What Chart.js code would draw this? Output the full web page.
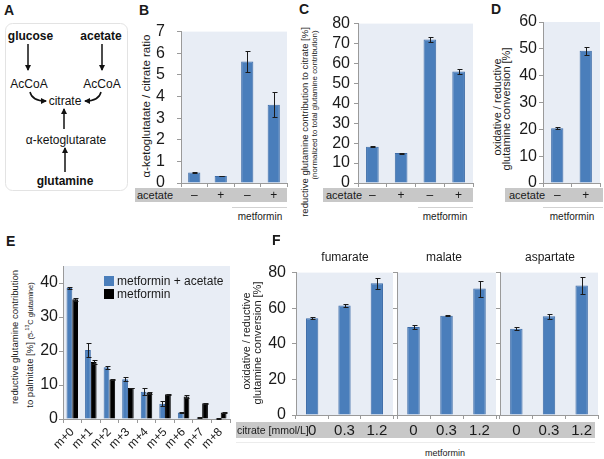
<!DOCTYPE html>
<html>
<head>
<meta charset="utf-8">
<script src="https://cdn.jsdelivr.net/npm/chart.js@4"></script>
<style>
body { margin: 0; background: #fff; font-family: "Liberation Sans", Arial, sans-serif; color: #1a1a1a; }
#fig { position: relative; width: 604px; height: 459px; overflow: hidden; }
canvas { position: absolute; }
.abs { position: absolute; white-space: nowrap; }
.band { position: absolute; background: #c8c8c8; }
.line { position: absolute; height: 1px; background: #d2d2d2; }
.letter { position: absolute; font-weight: bold; font-size: 14px; }
.rot { position: absolute; white-space: nowrap; transform: translate(-50%, -50%) rotate(-90deg); }
.mid { transform: translate(-50%, -50%); }
.vmid { transform: translateY(-50%); }
</style>
</head>
<body>
<div id="fig">

  <!-- A: pathway sketch -->
  <svg class="abs" style="left:0;top:0" width="135" height="200">
    <defs>
      <marker id="ah" markerWidth="6" markerHeight="6" refX="5" refY="3" orient="auto" markerUnits="userSpaceOnUse">
        <path d="M0,0 L6,3 L0,6 z" fill="#111"/>
      </marker>
    </defs>
    <rect x="5.5" y="23.5" width="122" height="167" rx="7" fill="none" stroke="#e3e3e3"/>
    <g font-family="Liberation Sans, Arial, sans-serif" font-size="12" fill="#111" text-anchor="middle">
      <text x="30.5" y="40" font-weight="bold">glucose</text>
      <text x="101" y="40" font-weight="bold">acetate</text>
      <text x="29" y="88">AcCoA</text>
      <text x="102" y="88">AcCoA</text>
      <text x="65" y="105">citrate</text>
      <text x="66" y="144">α-ketoglutarate</text>
      <text x="65" y="185" font-weight="bold">glutamine</text>
    </g>
    <g stroke="#111" stroke-width="1.5" fill="none" marker-end="url(#ah)">
      <line x1="28" y1="44" x2="28" y2="70"/>
      <line x1="102" y1="44" x2="102" y2="70"/>
      <path d="M30,92 Q32,101 46,101"/>
      <path d="M101,92 Q99,101 85,101"/>
      <line x1="64" y1="129" x2="64" y2="109"/>
      <line x1="65" y1="172" x2="65" y2="148"/>
    </g>
  </svg>
  <div class="letter" style="left:4px;top:2px">A</div>

  <!-- B -->
  <div class="letter" style="left:139px;top:2px">B</div>
  <div class="rot" style="left:146px;top:106px;font-size:11.5px">α-ketoglutatate / citrate ratio</div>
  <div class="band" style="left:135px;top:188px;width:152px;height:14px"></div>
  <div class="abs vmid" style="left:137px;top:195px;font-size:11px">acetate</div>
  <div class="line" style="left:232px;top:207px;width:55px"></div>
  <div class="abs mid" style="left:260px;top:216px;font-size:10px">metformin</div>
  <canvas id="chartB"></canvas>

  <!-- C -->
  <div class="letter" style="left:299px;top:1px">C</div>
  <div class="rot" style="left:304px;top:122px;font-size:9.5px">reductive glutamine contribution to citrate [%]</div>
  <div class="rot" style="left:314px;top:105px;font-size:7.9px">(normalized to total glutamine contribution)</div>
  <div class="band" style="left:323px;top:188px;width:150px;height:14px"></div>
  <div class="abs vmid" style="left:326px;top:195px;font-size:11px">acetate</div>
  <div class="line" style="left:418px;top:207px;width:55px"></div>
  <div class="abs mid" style="left:445px;top:216px;font-size:10px">metformin</div>
  <canvas id="chartC"></canvas>

  <!-- D -->
  <div class="letter" style="left:491px;top:1px">D</div>
  <div class="rot" style="left:497px;top:107px;font-size:11px">oxidative / reductive</div>
  <div class="rot" style="left:506px;top:109px;font-size:11px">glutamine conversion [%]</div>
  <div class="band" style="left:505px;top:188px;width:98px;height:14px"></div>
  <div class="abs vmid" style="left:509px;top:195px;font-size:11px">acetate</div>
  <div class="line" style="left:543px;top:207px;width:60px"></div>
  <div class="abs mid" style="left:572px;top:216px;font-size:10px">metformin</div>
  <canvas id="chartD"></canvas>

  <!-- E -->
  <div class="letter" style="left:6px;top:233px">E</div>
  <div class="rot" style="left:14px;top:337px;font-size:9.5px">reductive glutamine contribution</div>
  <div class="rot" style="left:29px;top:345px;font-size:9.5px">to palmitate [%] <span style="font-size:7.5px">(5-<sup style="font-size:5px">13</sup>C glutamine)</span></div>
  <canvas id="chartE"></canvas>
  <div class="abs" style="left:104px;top:276px;width:10px;height:10px;background:#4a7ebb"></div>
  <div class="abs vmid" style="left:117px;top:281px;font-size:12px">metformin + acetate</div>
  <div class="abs" style="left:104px;top:289px;width:10px;height:10px;background:#000"></div>
  <div class="abs vmid" style="left:117px;top:294px;font-size:12px">metformin</div>

  <!-- F -->
  <div class="letter" style="left:272px;top:232px">F</div>
  <div class="rot" style="left:246px;top:341px;font-size:11px">oxidative / reductive</div>
  <div class="rot" style="left:257px;top:343px;font-size:11px">glutamine conversion [%]</div>
  <div class="abs mid" style="left:345px;top:257px;font-size:12px">fumarate</div>
  <div class="abs mid" style="left:444px;top:257px;font-size:12px">malate</div>
  <div class="abs mid" style="left:550px;top:257px;font-size:12px">aspartate</div>
  <div class="band" style="left:236px;top:422px;width:359px;height:16px"></div>
  <div class="abs vmid" style="left:237px;top:430px;font-size:10.5px">citrate [mmol/L]</div>
  <div class="line" style="left:236px;top:442px;width:359px;background:#ececec"></div>
  <div class="abs mid" style="left:445px;top:453px;font-size:9px">metformin</div>
  <canvas id="chartF1"></canvas>
  <canvas id="chartF2"></canvas>
  <canvas id="chartF3"></canvas>
</div>

<script>
// -- Data --
const acetateLabels = ['–', '+', '–', '+']
const ratioB = [0.48, 0.32, 5.62, 3.62]
const ratioBErr = [0.02, 0.01, 0.5, 0.58]

const reductiveC = [18.2, 15.0, 72.0, 56.0]
const reductiveCErr = [0.2, 0.3, 1.3, 1.3]

const acetateLabelsD = ['–', '+']
const conversionD = [20.4, 49.3]
const conversionDErr = [0.3, 1.5]

const isotopologues = ['m+0', 'm+1', 'm+2', 'm+3', 'm+4', 'm+5', 'm+6', 'm+7', 'm+8']
const palmMetAcetate = [38.5, 20.3, 15.2, 11.7, 8.0, 4.5, 1.9, 0.4, 0.1]
const palmMetAcetateErr = [0.2, 2.0, 0.4, 0.6, 1.0, 0.7, 0.1, 0.1, 0.05]
const palmMetformin = [35.2, 16.8, 11.6, 9.1, 7.7, 7.3, 6.6, 4.6, 1.9]
const palmMetforminErr = [0.5, 0.7, 0.1, 0.1, 0.2, 0.2, 0.4, 0.1, 0.1]

const citrateDoses = ['0', '0.3', '1.2']
const fumarate = [54.3, 61.5, 74.0]
const fumarateErr = [0.5, 0.8, 3.0]
const malate = [49.5, 55.7, 71.0]
const malateErr = [1.0, 0.3, 4.5]
const aspartate = [48.5, 55.5, 72.8]
const aspartateErr = [0.7, 1.5, 4.7]

// -- Styling --
const barBlue = '#4a7ebb'
const barEdge = '#3d6ca8'
const axisCol = '#9a9a9a'
const plotCol = '#e8edf5'
const font = 'Liberation Sans'

// plot area fill, like the excel plot area
const plotBg = {
  id: 'plotBg',
  beforeDraw(chart) {
    const { ctx, chartArea: a } = chart
    ctx.save()
    ctx.fillStyle = plotCol
    ctx.fillRect(a.left, a.top, a.right - a.left, a.bottom - a.top)
    ctx.restore()
  }
}

const errorBars = {
  id: 'errorBars',
  afterDatasetsDraw(chart) {
    const ctx = chart.ctx
    const ys = chart.scales.y
    chart.data.datasets.forEach((ds, i) => {
      if (!ds.errors) return
      chart.getDatasetMeta(i).data.forEach((bar, j) => {
        const v = ds.data[j], e = ds.errors[j]
        const top = Math.round(ys.getPixelForValue(v + e)) + 0.5
        const bot = Math.round(ys.getPixelForValue(Math.max(0, v - e))) + 0.5
        const x = Math.round(bar.x) + 0.5
        ctx.save()
        ctx.strokeStyle = '#1a1a1a'
        ctx.lineWidth = 1
        ctx.beginPath()
        ctx.moveTo(x, top); ctx.lineTo(x, bot)
        ctx.moveTo(x - 2, top); ctx.lineTo(x + 3, top)
        ctx.moveTo(x - 2, bot); ctx.lineTo(x + 3, bot)
        ctx.stroke()
        ctx.restore()
      })
    })
  }
}

// box = plot area in page pixels
let barChart = function(id, box, o) {
  const yw = 50, pt = 12, pr = 4
  const xh = o.xh || 30
  const cv = document.getElementById(id)
  cv.width = box.r - box.l + yw + pr
  cv.height = box.b - box.t + pt + xh
  cv.style.left = (box.l - yw) + 'px'
  cv.style.top = (box.t - pt) + 'px'
  return new Chart(cv, {
    type: 'bar',
    data: { labels: o.labels, datasets: o.datasets },
    options: {
      responsive: false,
      animation: false,
      layout: { padding: { top: pt, right: pr, left: 0, bottom: 0 } },
      plugins: { legend: { display: false }, tooltip: { enabled: false } },
      scales: {
        x: {
          grid: { display: true, drawOnChartArea: false, tickLength: 4, color: axisCol, offset: true },
          border: { color: axisCol },
          ticks: Object.assign({
            color: '#1a1a1a', padding: o.xPad, autoSkip: false,
            font: { family: font, size: o.xSize || 12 }
          }, o.xTicks || {}),
          afterFit: s => { s.height = xh }
        },
        y: {
          min: 0, max: o.max,
          grid: { drawOnChartArea: false, tickLength: 4, color: axisCol },
          border: { color: axisCol },
          ticks: Object.assign({
            stepSize: o.step, includeBounds: false, autoSkip: false, color: '#1a1a1a', padding: o.yPad,
            font: { family: font, size: 16 }
          }, o.yTicks || {}),
          afterFit: s => { s.width = yw }
        }
      }
    },
    plugins: [plotBg, errorBars]
  })
}

let blueSet = function(data, errors, bp) {
  return {
    data: data, errors: errors,
    backgroundColor: barBlue, borderColor: barEdge, borderWidth: 1,
    barPercentage: bp, categoryPercentage: 1
  }
}

barChart('chartB', { l: 181, t: 22, r: 287, b: 183 }, {
  labels: acetateLabels, max: 7, step: 1, yPad: 12, xPad: 1,
  datasets: [blueSet(ratioB, ratioBErr, 0.46)]
})

barChart('chartC', { l: 358, t: 22, r: 473, b: 183 }, {
  labels: acetateLabels, max: 80, step: 10, yPad: 4, xPad: 1,
  datasets: [blueSet(reductiveC, reductiveCErr, 0.44)]
})

barChart('chartD', { l: 543, t: 22, r: 600, b: 183 }, {
  labels: acetateLabelsD, max: 60, step: 10, yPad: 2, xPad: 1,
  datasets: [blueSet(conversionD, conversionDErr, 0.43)]
})

barChart('chartE', { l: 63, t: 266, r: 230, b: 419 }, {
  labels: isotopologues, max: 45, step: 10, yPad: 1, xPad: 2, xh: 36,
  xTicks: { maxRotation: 45, minRotation: 45 },
  datasets: [
    { data: palmMetAcetate, errors: palmMetAcetateErr, backgroundColor: barBlue, borderColor: barEdge,
      borderWidth: 1, barPercentage: 1, categoryPercentage: 0.62 },
    { data: palmMetformin, errors: palmMetforminErr, backgroundColor: '#000', borderColor: '#000',
      borderWidth: 1, barPercentage: 1, categoryPercentage: 0.62 }
  ]
})

const fPanels = [['chartF1', 296, 393, fumarate, fumarateErr], ['chartF2', 397, 496, malate, malateErr],
  ['chartF3', 500, 598, aspartate, aspartateErr]]
fPanels.forEach((p, i) => {
  barChart(p[0], { l: p[1], t: 269, r: p[2], b: 415 }, {
    labels: citrateDoses, max: 80, step: 20, yPad: 6, xPad: 3, xSize: 15,
    yTicks: i === 0 ? {} : { callback: () => '' },
    datasets: [blueSet(p[3], p[4], 0.38)]
  })
})
</script>
</body>
</html>
